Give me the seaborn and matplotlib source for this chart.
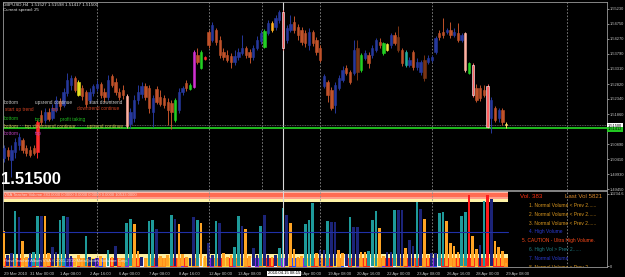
import numpy as np
import pandas as pd
import seaborn as sns
import matplotlib
matplotlib.use("Agg")
import matplotlib.pyplot as plt

# GBPUSD H4 bars, 29 Mar 20:00 .. 29 Apr 08:00 2010
opens = [1.5045, 1.5070, 1.5038, 1.5064, 1.5086, 1.5102, 1.5077, 1.5070, 1.5077, 1.5064,
         1.5182, 1.5166, 1.5192, 1.5173, 1.5198, 1.5227, 1.5214, 1.5253, 1.5278, 1.5301,
         1.5288, 1.5269, 1.5256, 1.5230, 1.5253, 1.5269, 1.5282, 1.5256, 1.5240, 1.5307,
         1.5288, 1.5256, 1.5262, 1.5243, 1.5154, 1.5173, 1.5230, 1.5250, 1.5275, 1.5269,
         1.5192, 1.5266, 1.5240, 1.5237, 1.5224, 1.5221, 1.5166, 1.5198, 1.5256, 1.5285,
         1.5266, 1.5272, 1.5374, 1.5333, 1.5368, 1.5448, 1.5422, 1.5454, 1.5422, 1.5384,
         1.5374, 1.5371, 1.5352, 1.5368, 1.5381, 1.5397, 1.5384, 1.5368, 1.5397, 1.5419,
         1.5400, 1.5445, 1.5477, 1.5464, 1.5486, 1.5512, 1.5422, 1.5454, 1.5480, 1.5464,
         1.5454, 1.5445, 1.5406, 1.5448, 1.5422, 1.5397, 1.5275, 1.5288, 1.5262, 1.5214,
         1.5269, 1.5294, 1.5333, 1.5320, 1.5317, 1.5397, 1.5326, 1.5365, 1.5374, 1.5374,
         1.5390, 1.5416, 1.5381, 1.5410, 1.5406, 1.5438, 1.5432, 1.5390, 1.5342, 1.5342,
         1.5384, 1.5336, 1.5320, 1.5358, 1.5352, 1.5358, 1.5384, 1.5445, 1.5448, 1.5448,
         1.5454, 1.5438, 1.5445, 1.5422, 1.5445, 1.5349, 1.5342, 1.5269, 1.5269, 1.5262,
         1.5275, 1.5173, 1.5205, 1.5173, 1.5198, 1.51527]
highs = [1.5086, 1.5080, 1.5086, 1.5109, 1.5125, 1.5109, 1.5086, 1.5083, 1.5086, 1.5166,
         1.5198, 1.5205, 1.5205, 1.5218, 1.5243, 1.5237, 1.5269, 1.5317, 1.5310, 1.5307,
         1.5294, 1.5278, 1.5262, 1.5269, 1.5282, 1.5294, 1.5288, 1.5269, 1.5310, 1.5314,
         1.5301, 1.5269, 1.5278, 1.5250, 1.5205, 1.5246, 1.5278, 1.5288, 1.5285, 1.5278,
         1.5246, 1.5275, 1.5262, 1.5246, 1.5237, 1.5230, 1.5237, 1.5269, 1.5275, 1.5294,
         1.5285, 1.5390, 1.5397, 1.5390, 1.5371, 1.5454, 1.5480, 1.5461, 1.5435, 1.5397,
         1.5390, 1.5381, 1.5390, 1.5397, 1.5438, 1.5403, 1.5394, 1.5406, 1.5435, 1.5454,
         1.5458, 1.5486, 1.5483, 1.5502, 1.5518, 1.5518, 1.5470, 1.5502, 1.5499, 1.5474,
         1.5464, 1.5454, 1.5461, 1.5454, 1.5432, 1.5406, 1.5314, 1.5294, 1.5272, 1.5288,
         1.5310, 1.5339, 1.5342, 1.5326, 1.5422, 1.5422, 1.5381, 1.5390, 1.5384, 1.5406,
         1.5429, 1.5429, 1.5416, 1.5413, 1.5445, 1.5448, 1.5467, 1.5397, 1.5390, 1.5368,
         1.5390, 1.5365, 1.5358, 1.5374, 1.5374, 1.5374, 1.5435, 1.5454, 1.5493, 1.5461,
         1.5480, 1.5461, 1.5477, 1.5445, 1.5448, 1.5352, 1.5349, 1.5282, 1.5278, 1.5278,
         1.5282, 1.5240, 1.5211, 1.5205, 1.5205, 1.51598]
lows = [1.5032, 1.5038, 1.4984, 1.5045, 1.5070, 1.5061, 1.5051, 1.5048, 1.5054, 1.5045,
        1.5150, 1.5157, 1.5163, 1.5166, 1.5192, 1.5198, 1.5208, 1.5243, 1.5262, 1.5256,
        1.5243, 1.5230, 1.5208, 1.5221, 1.5243, 1.5259, 1.5237, 1.5224, 1.5230, 1.5272,
        1.5246, 1.5230, 1.5234, 1.5141, 1.5141, 1.5160, 1.5218, 1.5237, 1.5230, 1.5189,
        1.5144, 1.5218, 1.5211, 1.5205, 1.5150, 1.5138, 1.5160, 1.5189, 1.5246, 1.5259,
        1.5262, 1.5269, 1.5346, 1.5330, 1.5358, 1.5397, 1.5416, 1.5406, 1.5365, 1.5358,
        1.5352, 1.5333, 1.5342, 1.5358, 1.5374, 1.5365, 1.5349, 1.5358, 1.5390, 1.5410,
        1.5397, 1.5438, 1.5448, 1.5454, 1.5477, 1.5390, 1.5413, 1.5448, 1.5445, 1.5422,
        1.5406, 1.5400, 1.5390, 1.5403, 1.5374, 1.5352, 1.5269, 1.5224, 1.5198, 1.5189,
        1.5262, 1.5288, 1.5310, 1.5282, 1.5310, 1.5294, 1.5320, 1.5358, 1.5333, 1.5365,
        1.5384, 1.5397, 1.5374, 1.5387, 1.5397, 1.5406, 1.5384, 1.5339, 1.5336, 1.5336,
        1.5326, 1.5326, 1.5310, 1.5291, 1.5346, 1.5352, 1.5378, 1.5422, 1.5429, 1.5442,
        1.5429, 1.5432, 1.5416, 1.5416, 1.5320, 1.5314, 1.5240, 1.5224, 1.5227, 1.5240,
        1.5141, 1.5125, 1.5160, 1.5160, 1.5150, 1.51417]
closes = [1.5077, 1.5051, 1.5070, 1.5096, 1.5112, 1.5070, 1.5061, 1.5054, 1.5061, 1.5160,
          1.5160, 1.5192, 1.5170, 1.5205, 1.5230, 1.5211, 1.5256, 1.5294, 1.5301, 1.5262,
          1.5246, 1.5243, 1.5218, 1.5256, 1.5275, 1.5282, 1.5246, 1.5240, 1.5294, 1.5278,
          1.5256, 1.5240, 1.5246, 1.5147, 1.5192, 1.5230, 1.5256, 1.5275, 1.5240, 1.5205,
          1.5237, 1.5224, 1.5218, 1.5214, 1.5198, 1.5192, 1.5230, 1.5256, 1.5269, 1.5269,
          1.5278, 1.5384, 1.5352, 1.5384, 1.5362, 1.5406, 1.5470, 1.5416, 1.5374, 1.5368,
          1.5358, 1.5352, 1.5371, 1.5384, 1.5397, 1.5374, 1.5368, 1.5397, 1.5422, 1.5445,
          1.5451, 1.5477, 1.5454, 1.5493, 1.5512, 1.5397, 1.5461, 1.5474, 1.5454, 1.5438,
          1.5416, 1.5413, 1.5448, 1.5413, 1.5384, 1.5358, 1.5307, 1.5246, 1.5205, 1.5278,
          1.5301, 1.5326, 1.5317, 1.5288, 1.5390, 1.5320, 1.5374, 1.5381, 1.5349, 1.5397,
          1.5422, 1.5406, 1.5413, 1.5390, 1.5438, 1.5413, 1.5390, 1.5349, 1.5384, 1.5358,
          1.5336, 1.5352, 1.5352, 1.5301, 1.5365, 1.5368, 1.5429, 1.5432, 1.5438, 1.5454,
          1.5438, 1.5448, 1.5422, 1.5438, 1.5326, 1.5317, 1.5246, 1.5230, 1.5237, 1.5246,
          1.5144, 1.5230, 1.5166, 1.5198, 1.5160, 1.51500]

# VSA signal bars that get their own colour
signal_colors = {9: "#ff2a2a", 20: "#e6e020", 33: "#ffb0a0", 46: "#22d022", 50: "#22d022",
                 51: "#d030d0", 53: "#22d022", 54: "#ff3030", 70: "#22d022", 72: "#ffb020",
                 75: "#ff6060", 95: "#7a3414", 96: "#22d022", 102: "#22d022", 103: "#f0e040",
                 106: "#7a3414", 108: "#22b0a0", 113: "#7a3414", 124: "#ffb0a0", 125: "#22d022",
                 126: "#ff6060", 130: "#ff6060", 135: "#ffe060"}
white_edged = [75, 126, 130]

volumes = [5000, 1500, 1800, 7800, 6900, 3600, 1300, 1900, 2000, 7050,
           7050, 7050, 1900, 2700, 2000, 6600, 7050, 6900, 1400, 1200,
           1500, 1100, 4300, 1300, 1000, 1200, 1400, 1100, 2300, 1300,
           2900, 1200, 1000, 6050, 6750, 5900, 2150, 1300, 1200, 6350,
           6600, 5300, 1400, 1200, 1500, 7200, 6750, 5900, 1700, 1300,
           1200, 6900, 6600, 6050, 1400, 3300, 1600, 6350, 6050, 1900,
           1300, 1500, 2700, 7050, 5750, 5300, 1400, 2600, 1500, 5750,
           7200, 1600, 1300, 1500, 2600, 8200, 7200, 6050, 2450, 1300,
           1400, 5900, 6500, 8900, 1900, 2300, 2300, 6350, 6200, 6200,
           2300, 1900, 1700, 6900, 5600, 5600, 2000, 2000, 2150, 6500,
           7800, 5450, 1400, 2000, 2000, 7900, 7900, 7900, 2600, 3750,
           2900, 9050, 8050, 6750, 1500, 1900, 1900, 7500, 7650, 6350,
           3300, 2900, 2000, 7050, 7650, 10080, 4300, 2450, 3000, 9200,
           10080, 9500, 3600, 2700, 2150, 383]
vol_kinds = list("onntnoontt" "noonnttnno" "ootnnnooto" "noottoonot" "tnoootnooo"
                 "nntoonntno" "oottnoonnt" "nnonttnooo" "otttonntnn" "oontnnoott"
                 "toonntnnon" "ntnoonntto" "ooottroont" "rnoooo")
stripe_kinds = list("roporyob" "ryporoyo" "rbpyroor" "ypbowryr" "opyorwoy" "rpooyrro"
                    "pryoowyr" "poryyrpo" "yorwpoyr" "rwopyrbo" "opyrroop" "ryobwryp"
                    "orrwyopr" "rwyorpor" "yorpbwrr" "yoryorry" "rroyrrro")

time_ticks = [0, 7, 15, 23, 31, 39, 47, 55, 63, 79, 87, 95, 103, 111, 119, 127, 135]
time_labels = ["29 Mar 2010", "31 Mar 00:00", "1 Apr 08:00", "2 Apr 16:00", "6 Apr 00:00",
               "7 Apr 08:00", "8 Apr 16:00", "12 Apr 00:00", "13 Apr 08:00",
               "16 Apr 00:00", "19 Apr 08:00", "20 Apr 16:00", "22 Apr 00:00", "23 Apr 08:00",
               "26 Apr 16:00", "28 Apr 00:00", "29 Apr 08:00"]
price_ticks = [1.5523, 1.5475, 1.5427, 1.5379, 1.5331, 1.5282, 1.5234, 1.5186,
               1.5089, 1.5041, 1.4993, 1.4945]
separators = [25, 55, 85, 115, 151.3]
marker_line = 69.3
crosshair = 75.1
bid_price = 1.51500
green_level = 1.5141
avg_volume = 4830

legend_lines = [("1. Normal Volume < Prev 2......", "#d8961e"),
                ("2. Normal Volume < Prev 2......", "#d8961e"),
                ("3. Normal Volume < Prev 2......", "#d8961e"),
                ("4. High Volume", "#2a3ad0"),
                ("5. CAUTION - Ultra High Volume.", "#ff4a1a"),
                ("6. High Vol > Prev 2......", "#1f7f86"),
                ("7. Normal Volume", "#2a3ad0"),
                ("8. Normal Volume > Prev 2...", "#d8961e")]

# pattern labels drawn on the chart: (bar, price, text, colour)
pattern_labels = [(0, 1.5224, "bottom", "#c8c8c8"), (8.3, 1.5224, "upsrend continue", "#c8c8c8"),
                  (22.8, 1.5224, "start downtrend", "#c8c8c8"),
                  (0.2, 1.5202, "start up trend", "#d04020"), (12.9, 1.5202, "top", "#d04020"),
                  (19.6, 1.5202, "downtrend continue", "#d04020"),
                  (0, 1.5170, "bottom", "#20c020"), (8.3, 1.5170, "top", "#20c020"),
                  (15, 1.5170, "profit taking", "#20c020"),
                  (0, 1.5145, "bottom", "#c8c048"), (5.6, 1.5145, "top", "#c8c048"),
                  (7.8, 1.5145, "downtrend continue", "#c8c048"),
                  (22.3, 1.5145, "uptrend continue", "#c8c048"),
                  (0, 1.5125, "bottom", "#c040c0"), (8.3, 1.5125, "top", "#c040c0")]

W, H = 625, 277
BULL, BEAR = "#26389c", "#c0522a"
VOL_COLORS = {"t": "#1e9a9a", "n": "#1c2478", "o": "#ffa424", "r": "#ff1a1a"}
STRIPE_COLORS = {"y": "#ffd23c", "o": "#ff8c1a", "r": "#ff2a1a", "p": "#8a2be2",
                 "b": "#2850ff", "w": "#f4f4f4"}

sns.set_theme(style="dark")
plt.rcParams["font.family"] = ["Liberation Sans", "DejaVu Sans"]

fig = plt.figure(figsize=(W / 100, H / 100), dpi=100, facecolor="black")
axp = fig.add_axes([3 / W, 1 - 190 / H, 604 / W, 188.5 / H])
axv = fig.add_axes([3 / W, 1 - 267 / H, 604 / W, 76 / H])

def ftext(px, py, s, **kw):
    kw.setdefault("va", "center")
    return fig.text(px / W, 1 - py / H, s, **kw)

x = np.arange(len(closes))
o, h, l, c = map(np.array, (opens, highs, lows, closes))
cols = np.where(c >= o, BULL, BEAR).astype(object)
for k, v in signal_colors.items():
    cols[k] = v
edges = cols.copy()
for k in white_edged:
    edges[k] = "white"

# ---- price panel ----
axp.set_facecolor("black")
axp.vlines(x, l, h, colors=list(cols), lw=0.7, zorder=3)
axp.bar(x, c - o, bottom=o, width=0.62, color=list(cols), edgecolor=list(edges),
        linewidth=0.4, zorder=4)
axp.axhline(green_level, color="#22c822", lw=1.3, zorder=2)
axp.axhline(bid_price, color="#707070", lw=0.6, ls=(0, (1, 1)), zorder=2)
for s in separators + [marker_line]:
    axp.axvline(s, color="#8a8a8a", lw=0.6, ls=(0, (2, 2)), zorder=1)
axp.axvline(crosshair, color="#d8d8d8", lw=0.8, zorder=1)
for bx, by, txt, col in pattern_labels:
    axp.text(bx, by, txt, color=col, fontsize=3.4, va="center", ha="left", zorder=5)

axp.set_xlim(-0.27, 162.1)
axp.set_ylim(1.49428, 1.5546)
axp.yaxis.tick_right()
axp.set_yticks(price_ticks)
axp.set_yticklabels([f"{p:.5f}" for p in price_ticks])
axp.set_xticks([])
axp.tick_params(axis="y", colors="#c8c8c8", labelsize=2.9, length=1.5, width=0.5, pad=0.5)
for sp in axp.spines.values():
    sp.set_color("#9a9a9a")
    sp.set_linewidth(0.6)

# ---- volume panel ----
axv.set_facecolor("black")
axv.bar(x, 1136 + 142, bottom=-142, width=1.0,
        color=[STRIPE_COLORS[k] for k in stripe_kinds], linewidth=0, zorder=1)
span = [-0.5, len(x) - 0.5]
axv.fill_between(span, 1136, 1704, color="#fff0a0", lw=0, zorder=2)
axv.fill_between(span, 9090, 9520, color="#fff3a6", lw=0, zorder=2)
axv.fill_between(span, 9520, 9800, color="#ffa08c", lw=0, zorder=2)
axv.fill_between(span, 9800, 10370, color="#ff6c52", lw=0, zorder=2)
axv.fill_between(span, 10370, 10660, color="#ffb8a8", lw=0, zorder=2)

vdf = pd.DataFrame({"bar": x, "vol": volumes, "kind": vol_kinds})
sns.barplot(data=vdf, x="bar", y="vol", hue="kind", palette=VOL_COLORS, native_scale=True,
            dodge=False, width=0.7, saturation=1, errorbar=None, legend=False,
            linewidth=0, ax=axv, zorder=3)
axv.plot(span, [avg_volume, avg_volume], color="#2030a8", lw=0.8, zorder=4)
for s in separators:
    axv.axvline(s, color="#8a8a8a", lw=0.6, ls=(0, (2, 2)), zorder=5)
axv.axvline(crosshair, color="#d8d8d8", lw=0.8, zorder=5)

axv.set_xlim(-0.27, 162.1)
axv.set_ylim(-142, 10660)
axv.yaxis.tick_right()
axv.set_yticks([0, 10234.6])
axv.set_yticklabels(["0", "10234.6"])
axv.set_xticks(time_ticks)
axv.set_xticklabels(time_labels)
axv.set_xlabel("")
axv.set_ylabel("")
axv.tick_params(axis="y", colors="#c8c8c8", labelsize=2.9, length=1.5, width=0.5, pad=0.5)
axv.tick_params(axis="x", colors="#c8c8c8", labelsize=3.0, length=2, width=0.5, pad=1.5)
for lbl in axv.get_xticklabels():
    lbl.set_ha("left")
for sp in axv.spines.values():
    sp.set_color("#9a9a9a")
    sp.set_linewidth(0.6)

axv.text(4 / W, 1 - 195 / H,
         "VSA Teacher Volume 383.0000 0.0000 0.0000 0.0000 0.0000 10533.0000",
         transform=fig.transFigure, fontsize=3.0, color="#f2d8d0", va="center", zorder=6)
axv.text(4 / W, 1 - 261 / H, "Hand Teacher Album VSA \u00a9 2001-2010 MetaQuotes Software Corp.",
         transform=fig.transFigure, fontsize=3.0, color="#e8e8e8", va="center", zorder=6)
axv.text(520 / W, 1 - 197 / H, "Vol. 383", transform=fig.transFigure, fontsize=4.4,
         color="#ff3010", va="center", zorder=6)
axv.text(565 / W, 1 - 197 / H, "Last Vol 5821", transform=fig.transFigure, fontsize=4.4,
         color="#d8882a", va="center", zorder=6)
for k, (txt, col) in enumerate(legend_lines):
    px = 522 if k == 4 else 529
    t = axv.text(px / W, 1 - (205.5 + 8.8 * k) / H, txt, transform=fig.transFigure,
                 fontsize=3.5, color=col, va="center", zorder=6)
    t.set_clip_on(True)

# header and big price
ftext(3, 4.5, "GBPUSD,H4  1.51527 1.51598 1.51417 1.51500", fontsize=3.2, color="#e6e6e6", ha="left")
ftext(3, 10, "Current spread: 25", fontsize=3.2, color="#e6e6e6", ha="left")
ftext(1.5, 179, "1.51500", fontsize=12, fontweight="bold", color="white", ha="left")

# current price tags on the axis
ftext(608, 126, "1.51500", fontsize=2.9, color="black", ha="left",
      bbox=dict(boxstyle="square,pad=0.15", fc="white", ec="none"))
ftext(608, 129.5, "1.51412", fontsize=2.9, color="black", ha="left",
      bbox=dict(boxstyle="square,pad=0.15", fc="#22c822", ec="none"))
# crosshair time tag (covers the start of the next date label, as in the terminal)
ftext(284, 273.5, "2010.04.15 08:15", fontsize=3.1, color="black", ha="center", zorder=10,
      bbox=dict(boxstyle="square,pad=0.2", fc="white", ec="none"))

fig.savefig("out.png", dpi=100, facecolor="black")
